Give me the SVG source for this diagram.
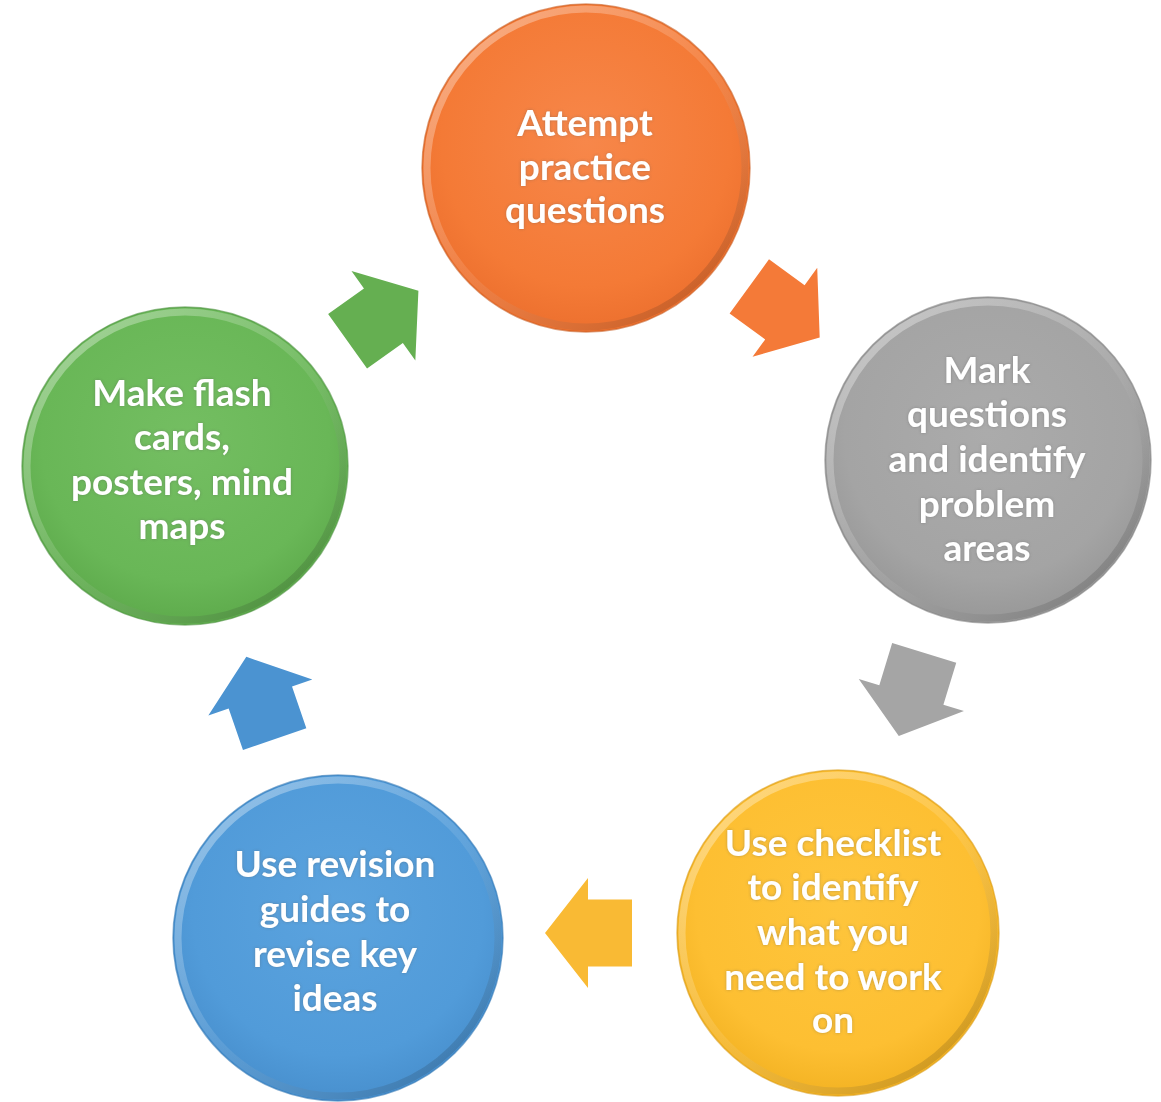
<svg xmlns="http://www.w3.org/2000/svg" xmlns:xlink="http://www.w3.org/1999/xlink" width="1161" height="1102" viewBox="0 0 1161 1102">
<style>
  .lbl { font-family: Lato, "Open Sans", "Liberation Sans", sans-serif; font-size: 37px; font-weight: bold; fill: #ffffff; text-anchor: middle; filter: url(#glow); }
  .rim { fill: none; stroke: url(#rimg); stroke-width: 7; }
  .edge { fill: none; stroke-width: 1.5; stroke-opacity: 0.6; }
</style>
<defs>
  <filter id="glow" x="-10%" y="-30%" width="120%" height="160%">
    <feGaussianBlur in="SourceAlpha" stdDeviation="1.6" result="b"/>
    <feFlood flood-color="#555555" flood-opacity="0.4"/>
    <feComposite in2="b" operator="in" result="s"/>
    <feMerge><feMergeNode in="s"/><feMergeNode in="SourceGraphic"/></feMerge>
  </filter>
  <linearGradient id="rimg" x1="0.15" y1="0.1" x2="0.85" y2="0.9">
    <stop offset="0" stop-color="#ffffff" stop-opacity="0.35"/>
    <stop offset="0.5" stop-color="#ffffff" stop-opacity="0.1"/>
    <stop offset="1" stop-color="#000000" stop-opacity="0.15"/>
  </linearGradient>
  <radialGradient id="gOrange" cx="0.5" cy="0.42" r="0.55">
    <stop offset="0" stop-color="#F7874A"/>
    <stop offset="0.8" stop-color="#F47A36"/>
    <stop offset="1" stop-color="#EE7230"/>
  </radialGradient>
  <radialGradient id="gGray" cx="0.5" cy="0.42" r="0.55">
    <stop offset="0" stop-color="#ABABAB"/>
    <stop offset="0.8" stop-color="#A4A4A4"/>
    <stop offset="1" stop-color="#9A9A9A"/>
  </radialGradient>
  <radialGradient id="gYellow" cx="0.5" cy="0.42" r="0.55">
    <stop offset="0" stop-color="#FEC53C"/>
    <stop offset="0.8" stop-color="#FDBF32"/>
    <stop offset="1" stop-color="#F5B526"/>
  </radialGradient>
  <radialGradient id="gBlue" cx="0.5" cy="0.42" r="0.55">
    <stop offset="0" stop-color="#5BA3DE"/>
    <stop offset="0.8" stop-color="#519BD9"/>
    <stop offset="1" stop-color="#4A92D0"/>
  </radialGradient>
  <radialGradient id="gGreen" cx="0.5" cy="0.42" r="0.55">
    <stop offset="0" stop-color="#74BE62"/>
    <stop offset="0.8" stop-color="#69B757"/>
    <stop offset="1" stop-color="#60AD4E"/>
  </radialGradient>
  <path id="arr" d="M-43.5,-33.5 L0.5,-33.5 L0.5,-55 L43.5,0 L0.5,55 L0.5,33.5 L-43.5,33.5 Z"/>
</defs>

<rect width="1161" height="1102" fill="#ffffff"/>

<g id="connectors">
  <use xlink:href="#arr" href="#arr" fill="#F47A38" transform="translate(784.5,312) rotate(36)"/>
  <use xlink:href="#arr" href="#arr" fill="#A5A5A5" transform="translate(911.5,694.5) rotate(107)"/>
  <use xlink:href="#arr" href="#arr" fill="#F9BA34" transform="translate(588.5,933) rotate(180)"/>
  <use xlink:href="#arr" href="#arr" fill="#4B93D1" transform="translate(260.5,698) rotate(-109)"/>
  <use xlink:href="#arr" href="#arr" fill="#65AF51" transform="translate(383,316) rotate(-35.5)"/>
</g>

<g id="node-attempt">
  <ellipse cx="586" cy="168" rx="164" ry="164" fill="url(#gOrange)"/>
  <ellipse class="rim" cx="586" cy="168" rx="159" ry="159"/>
  <ellipse class="edge" cx="586" cy="168" rx="164" ry="164" stroke="#C85A1E"/>
  <text class="lbl" x="585" y="136">Attempt</text>
  <text class="lbl" x="585" y="180">practice</text>
  <text class="lbl" x="585" y="223">questions</text>
</g>

<g id="node-mark">
  <ellipse cx="988" cy="460" rx="163" ry="163" fill="url(#gGray)"/>
  <ellipse class="rim" cx="988" cy="460" rx="158" ry="158"/>
  <ellipse class="edge" cx="988" cy="460" rx="163" ry="163" stroke="#7F7F7F"/>
  <text class="lbl" x="987" y="383">Mark</text>
  <text class="lbl" x="987" y="427">questions</text>
  <text class="lbl" x="987" y="472">and identify</text>
  <text class="lbl" x="987" y="517">problem</text>
  <text class="lbl" x="987" y="561">areas</text>
</g>

<g id="node-checklist">
  <ellipse cx="838" cy="933" rx="161" ry="163" fill="url(#gYellow)"/>
  <ellipse class="rim" cx="838" cy="933" rx="156" ry="158"/>
  <ellipse class="edge" cx="838" cy="933" rx="161" ry="163" stroke="#D99A10"/>
  <text class="lbl" x="833" y="856">Use checklist</text>
  <text class="lbl" x="833" y="900">to identify</text>
  <text class="lbl" x="833" y="945">what you</text>
  <text class="lbl" x="833" y="990">need to work</text>
  <text class="lbl" x="833" y="1033">on</text>
</g>

<g id="node-revision">
  <ellipse cx="338" cy="938" rx="165" ry="163" fill="url(#gBlue)"/>
  <ellipse class="rim" cx="338" cy="938" rx="160" ry="158"/>
  <ellipse class="edge" cx="338" cy="938" rx="165" ry="163" stroke="#2F75B3"/>
  <text class="lbl" x="335" y="877">Use revision</text>
  <text class="lbl" x="335" y="922">guides to</text>
  <text class="lbl" x="335" y="967">revise key</text>
  <text class="lbl" x="335" y="1011">ideas</text>
</g>

<g id="node-flashcards">
  <ellipse cx="185" cy="466" rx="163" ry="159" fill="url(#gGreen)"/>
  <ellipse class="rim" cx="185" cy="466" rx="158" ry="154"/>
  <ellipse class="edge" cx="185" cy="466" rx="163" ry="159" stroke="#4C9140"/>
  <text class="lbl" x="182" y="406">Make flash</text>
  <text class="lbl" x="182" y="450">cards,</text>
  <text class="lbl" x="182" y="495">posters, mind</text>
  <text class="lbl" x="182" y="539">maps</text>
</g>
</svg>
